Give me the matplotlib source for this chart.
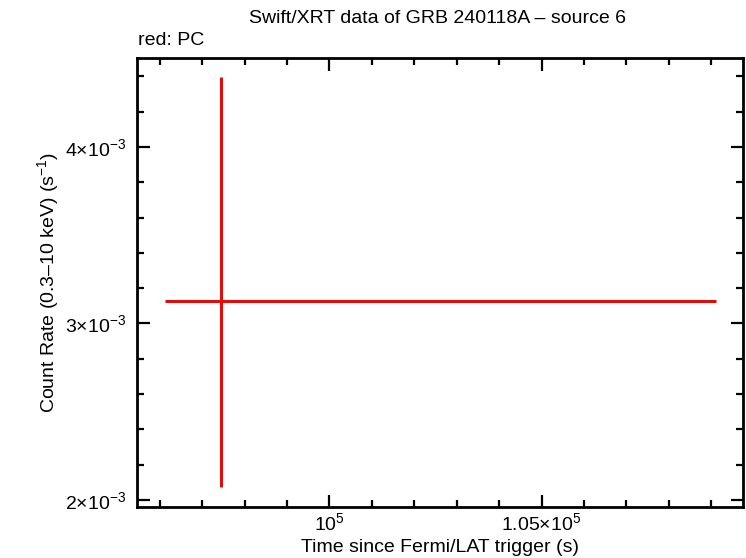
import matplotlib
matplotlib.use("Agg")
import matplotlib.pyplot as plt
from matplotlib.ticker import MultipleLocator

plt.rcParams['font.family'] = ['Liberation Sans', 'DejaVu Sans']
plt.rcParams['mathtext.fontset'] = 'custom'
plt.rcParams['mathtext.rm'] = 'Liberation Sans'
plt.rcParams['mathtext.it'] = 'Liberation Sans'

# Datos (PC)
t = [97441]
t_err_lo = [1321]
t_err_hi = [11675]
rate = [3.127e-3]
rate_err_lo = [1.056e-3]
rate_err_hi = [1.267e-3]

x_ticks = [1.0e5, 1.05e5]
x_labels = [r'$10^{5}$', r'$1.05{\times}10^{5}$']
y_ticks = [2e-3, 3e-3, 4e-3]
y_labels = [r'$2{\times}10^{-3}$', r'$3{\times}10^{-3}$', r'$4{\times}10^{-3}$']

fig = plt.figure(figsize=(7.46, 5.58), dpi=100)
ax = fig.add_axes([0.1843, 0.0914, 0.996 - 0.1843, 0.896 - 0.0914])

ax.errorbar(t, rate, xerr=[t_err_lo, t_err_hi], yerr=[rate_err_lo, rate_err_hi],
            fmt='none', ecolor='red', elinewidth=2.2, capsize=0)

ax.set_xlim(95472, 109752)
ax.set_ylim(1.960e-3, 4.504e-3)

ax.set_xticks(x_ticks)
ax.set_xticklabels(x_labels)
ax.set_yticks(y_ticks)
ax.set_yticklabels(y_labels)
ax.xaxis.set_minor_locator(MultipleLocator(1000))
ax.yaxis.set_minor_locator(MultipleLocator(2e-4))

ax.tick_params(which='both', direction='in', top=True, right=True, width=1.6,
               labelsize=14)
ax.tick_params(axis='y', which='major', pad=8)
ax.tick_params(axis='x', which='major', pad=4)
ax.tick_params(which='major', length=9)
ax.tick_params(which='minor', length=5)
for s in ax.spines.values():
    s.set_linewidth(2)

ax.set_xlabel('Time since Fermi/LAT trigger (s)', fontsize=14, labelpad=3)
ax.set_ylabel(r'Count Rate (0.3–10 keV) (s$^{-1}$)', fontsize=14, labelpad=3)

fig.text(0.586, 0.966, 'Swift/XRT data of GRB 240118A – source 6', ha='center',
         va='center', fontsize=14)
fig.text(0.185, 0.928, 'red: PC', ha='left', va='center', fontsize=14)

fig.savefig('out.png', dpi=100)
